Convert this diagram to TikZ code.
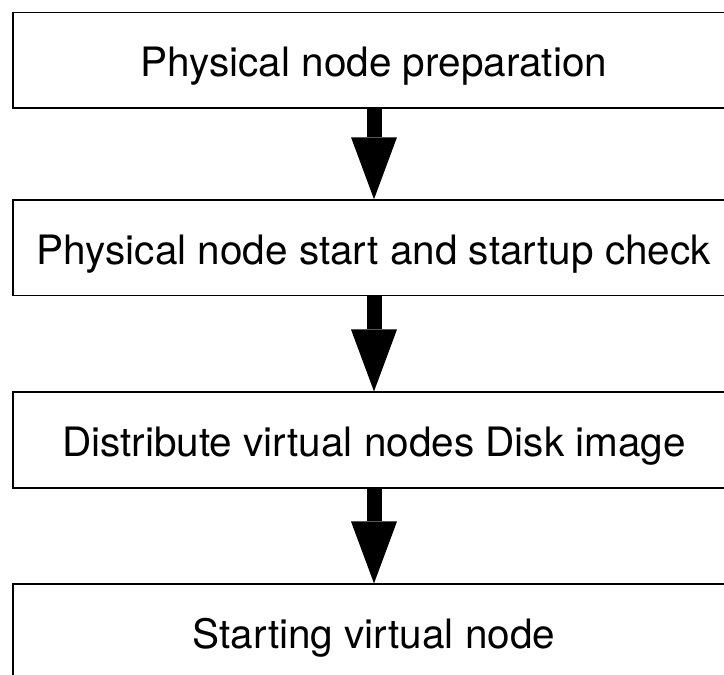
\documentclass[tikz,border=0pt]{standalone}
\usepackage{fontspec}
\setmainfont{TeX Gyre Heros}
\usetikzlibrary{arrows.meta}
\begin{document}
\begin{tikzpicture}[x=1pt,y=-1pt,
  stepbox/.style={draw=black, line width=1.6pt, minimum width=722.6pt,
    minimum height=95.5pt, inner sep=0pt, text height=33pt, text depth=0pt,
    font=\fontsize{40.5}{48}\selectfont},
  flow/.style={line width=15pt,
    -{Triangle[length=62pt,width=46pt,line width=0pt]}}]
\useasboundingbox (0,0) rectangle (724,675);
% process steps
\node[stepbox] (prep)  at (374,60.3)  {Physical node preparation};
\node[stepbox] (start) at (374,247.8) {Physical node start and startup check};
\node[stepbox] (dist)  at (374,440)   {Distribute virtual nodes Disk image};
\node[stepbox] (virt)  at (374,632)   {Starting virtual node};
% flow arrows
\draw[flow] (prep.south)  -- (start.north);
\draw[flow] (start.south) -- (dist.north);
\draw[flow] (dist.south)  -- (virt.north);
\end{tikzpicture}
\end{document}
